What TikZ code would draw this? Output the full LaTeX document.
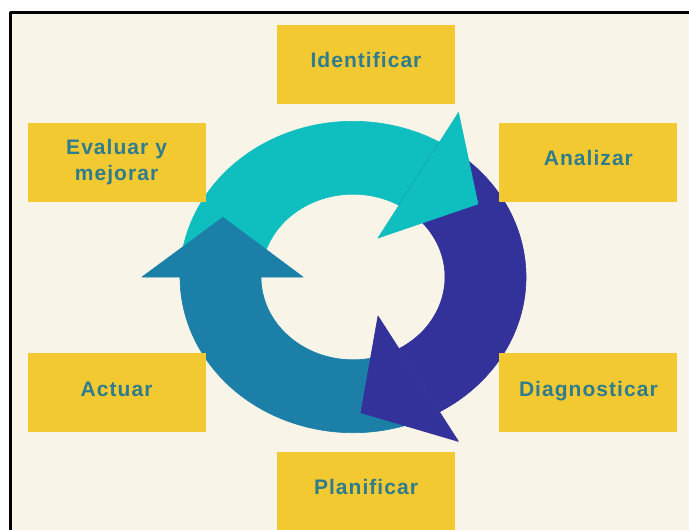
\documentclass[tikz,border=0pt]{standalone}
\usepackage{fontspec}
\newfontfamily\labelfont[LetterSpace=5]{Liberation Sans}
\usetikzlibrary{positioning}

\definecolor{paper}{RGB}{248,244,231}
\definecolor{boxyellow}{RGB}{242,201,48}
\definecolor{labelteal}{RGB}{46,124,142}
\definecolor{arrowcyan}{RGB}{15,190,190}
\definecolor{arrowindigo}{RGB}{50,50,154}
\definecolor{arrowblue}{RGB}{27,127,168}

\begin{document}
\begin{tikzpicture}[
            x = 1pt,
            y = -1pt,
            line join = round
        ]

        \tikzstyle{stage}=[
            fill = boxyellow,
            text = labelteal,
            font = \labelfont\bfseries\fontsize{21}{26}\selectfont,
            inner sep = 0pt,
            minimum width = 178pt,
            minimum height = 79pt,
            text height = 15pt,
            text depth = 8pt,
            align = center
        ]
        \tikzstyle{ring}=[line width = 0.6pt]

        \useasboundingbox (0,0) rectangle (689,530);
        \fill[white] (0,0) rectangle (689,530);
        \fill[paper] (12,14) rectangle (695,536);
        \draw[line width = 3pt] (10.5,536) |- (695,12.5);

        \coordinate (hub) at (353,277);

        % cycle arrows
        \begin{scope}[shift = {(hub)}, x = 1pt, y = 1pt, yscale = 0.9]
        \path[ring, fill = arrowcyan, draw = arrowcyan] (180:173) arc[start angle = 180, end angle = 60, radius = 173] -- (60:92) arc[start angle = 60, end angle = 180, radius = 92] -- cycle;
        \path[ring, fill = arrowindigo, draw = arrowindigo] (60:173) arc[start angle = 60, end angle = -60, radius = 173] -- (-60:92) arc[start angle = -60, end angle = 60, radius = 92] -- cycle;
        \path[ring, fill = arrowblue, draw = arrowblue] (-60:173) arc[start angle = -60, end angle = -180, radius = 173] -- (-180:92) arc[start angle = -180, end angle = -60, radius = 92] -- cycle;

        \path[ring, fill = arrowcyan, draw = arrowcyan] (60:50) -- (60:211) -- (33:149) -- cycle;
        \path[ring, fill = arrowindigo, draw = arrowindigo] (-60:50) -- (-60:211) -- (-87:151) -- cycle;
        \path[ring, fill = arrowblue, draw = arrowblue] (180:50) -- (180:211) -- (153:146) -- cycle;
        \end{scope}

        \node[stage] (idf) at (366,64) {Identificar};
        \node[stage] (ana) [below right=19pt and 44pt of idf] {Analizar};
        \node[stage, text height = {}, text depth = {}] (evm) [below left=19pt and 71pt of idf] {Evaluar y\\mejorar};
        \node[stage] (dgn) [below=151pt of ana] {Diagnosticar};
        \node[stage] (act) [below=151pt of evm] {Actuar};
        \node[stage] (pln) [below right=19pt and 71pt of act] {Planificar};

\end{tikzpicture}
\end{document}
